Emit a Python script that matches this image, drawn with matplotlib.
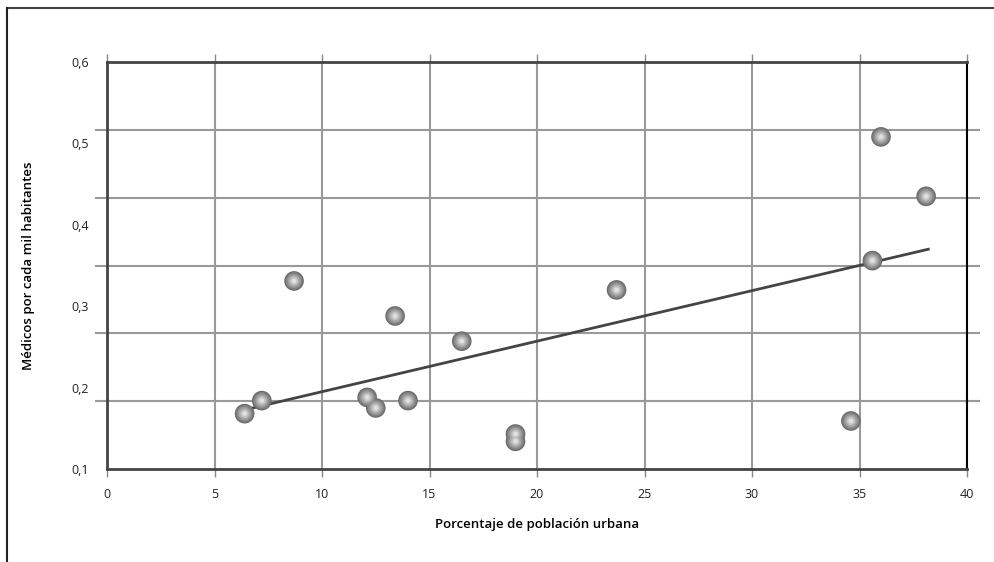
import numpy as np
import matplotlib.pyplot as plt
from matplotlib.lines import Line2D

# porcentaje de poblacion urbana vs medicos por cada mil habitantes
urbana = [6.4, 7.2, 8.7, 12.1, 12.5, 13.4, 14.0, 16.5, 19.0, 19.0, 23.7, 34.6, 35.6, 36.0, 38.1]
medicos = [0.168, 0.184, 0.331, 0.188, 0.175, 0.288, 0.184, 0.257, 0.143, 0.134, 0.320, 0.159, 0.356, 0.508, 0.435]

# extremos de la linea de tendencia
trend_x = [6.3, 38.2]
trend_y = [0.172, 0.370]

xticks = [0, 5, 10, 15, 20, 25, 30, 35, 40]
yticks = [0.1, 0.2, 0.3, 0.4, 0.5, 0.6]
ylabels = ["0,1", "0,2", "0,3", "0,4", "0,5", "0,6"]

plt.rcParams['font.family'] = ['Open Sans', 'DejaVu Sans']

fig = plt.figure(figsize=(9.94, 5.62), dpi=100)
ax = fig.add_axes([107/994, 93/562, 860/994, 407/562])

ax.set_xlim(0, 40)
ax.set_ylim(0.1, 0.6)

# grid: vertical every 5, horizontal in 6 steps
ax.set_xticks(xticks)
ax.set_xticklabels([str(v) for v in xticks], fontsize=9, color="#222222")
ax.set_yticks(yticks)
ax.set_yticklabels(ylabels, fontsize=9, color="#222222")
ax.tick_params(axis="y", length=0, pad=13)
ax.tick_params(axis="x", length=6, width=1, color="#888888", pad=8, top=True)
ygrid = np.linspace(0.1, 0.6, 7)
ax.set_yticks(ygrid, minor=True)
ax.tick_params(axis="y", which="minor", length=9, width=1.5, color="#999999", left=True, right=True)
ax.grid(True, axis="x", color="#999999", lw=1.5)
ax.grid(True, axis="y", which="minor", color="#999999", lw=1.5)
ax.set_axisbelow(True)

for s in ["left", "top", "bottom"]:
    ax.spines[s].set_color("#444444")
    ax.spines[s].set_linewidth(2)
ax.spines["right"].set_color("black")
ax.spines["right"].set_linewidth(1.5)

ax.plot(trend_x, trend_y, color="#444444", lw=2, zorder=3)

# sphere-like markers
shades = [(200, "#6a6a6a"), (160, "#7c7c7c"), (115, "#909090"), (75, "#a6a6a6"), (38, "#c2c2c2"), (12, "#e0e0e0")]
for sz, c in shades:
    ax.scatter(urbana, medicos, s=sz, color=c, edgecolors="none", zorder=4)

ax.set_xlabel("Porcentaje de población urbana", fontsize=9.5, fontweight="semibold", labelpad=12)
ax.set_ylabel("Médicos por cada mil habitantes", fontsize=9.5, fontweight="semibold", labelpad=26)

# outer frame lines
fig.add_artist(Line2D([7/994, 1], [1-8/562, 1-8/562], color="#444444", lw=1.5, transform=fig.transFigure))
fig.add_artist(Line2D([7/994, 7/994], [0, 1-8/562], color="#222222", lw=1.5, transform=fig.transFigure))

fig.savefig("out.png", dpi=100)
